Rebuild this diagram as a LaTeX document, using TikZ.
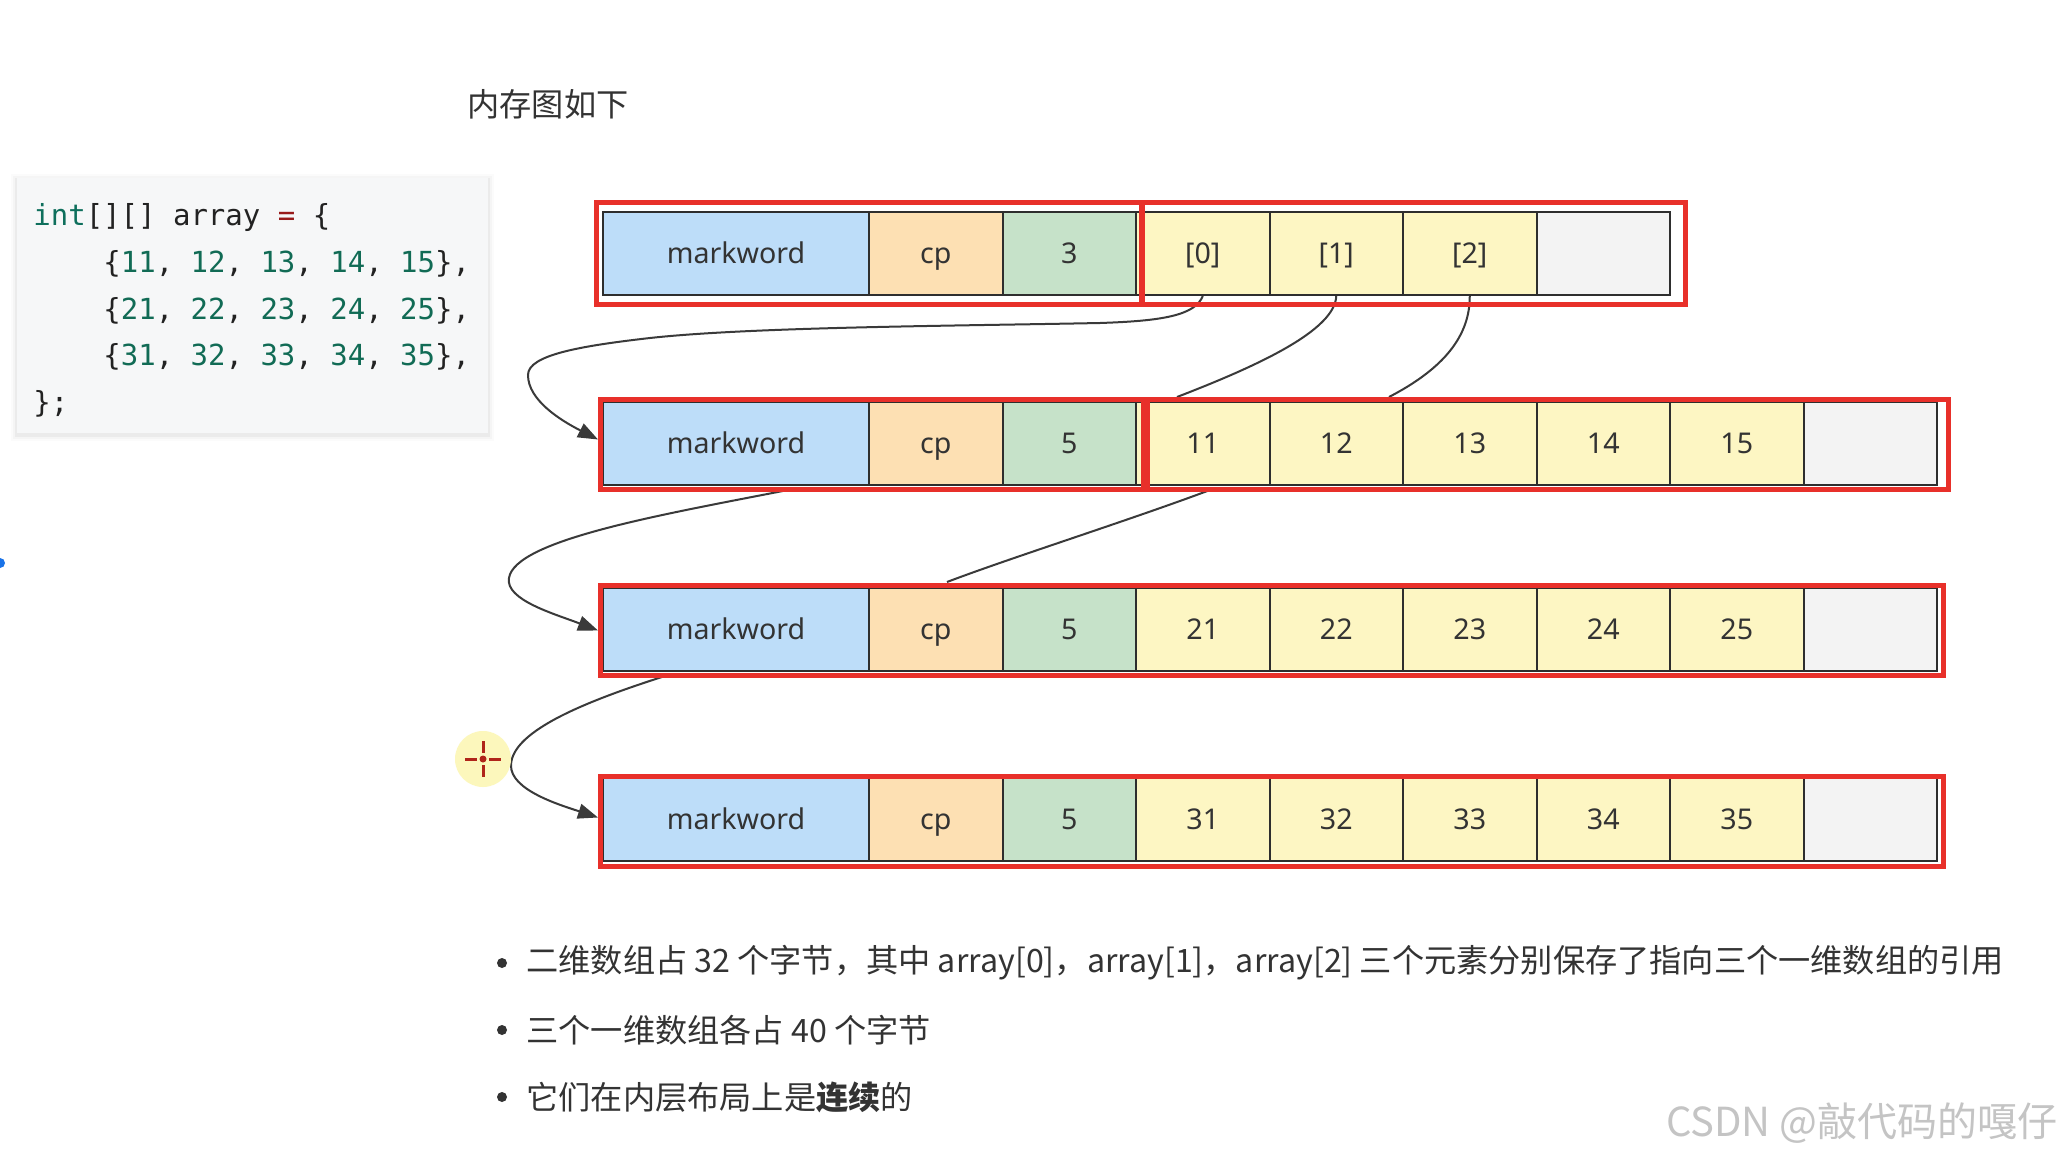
\documentclass[tikz,border=0pt]{standalone}
\usepackage{fontspec}
\setmainfont{Noto Sans}
\setmonofont{DejaVu Sans Mono}
\newfontfamily\cjk{Noto Sans CJK SC}
\usetikzlibrary{arrows.meta,calc}
\definecolor{mwblue}{HTML}{BDDDF9}
\definecolor{cporange}{HTML}{FDE0B3}
\definecolor{lengreen}{HTML}{C6E2C9}
\definecolor{datayellow}{HTML}{FDF6C3}
\definecolor{emptygray}{HTML}{F3F3F3}
\definecolor{redbox}{HTML}{E8302A}
\definecolor{celltext}{HTML}{333333}
\definecolor{cellline}{HTML}{2E2E2E}
\definecolor{linegray}{HTML}{3A3A3A}
\definecolor{codebg}{HTML}{F6F7F8}
\definecolor{codekw}{HTML}{0E6F5C}
\definecolor{codenum}{HTML}{116B55}
\definecolor{codeop}{HTML}{981A1A}
\definecolor{codetext}{HTML}{222222}
\definecolor{bodytext}{HTML}{333333}
\definecolor{wmgray}{HTML}{C4C4C4}
\definecolor{cursoryellow}{HTML}{FCF7BC}
\definecolor{cursorred}{HTML}{B0251A}
\definecolor{dotblue}{HTML}{1A73E8}
\pgfdeclarelayer{background}
\pgfsetlayers{background,main}
\newcommand\cellfont{\fontsize{14.3}{17}\selectfont}
\newcommand\codefont{\ttfamily\fontsize{14.5}{17}\selectfont}
\newcommand\bodyfont{\cjk\fontsize{16.1}{20}\selectfont}
\begin{document}
\begin{tikzpicture}[x=0.5pt,y=-0.5pt,
  cellbox/.style={draw=cellline, line width=1pt, minimum height=41.5pt, inner sep=0pt, text height=10.2pt, text depth=0pt, anchor=north west, font=\cellfont, text=celltext},
  mwcell/.style={cellbox, fill=mwblue, minimum width=133pt},
  cpcell/.style={cellbox, fill=cporange, minimum width=66.75pt},
  lencell/.style={cellbox, fill=lengreen, minimum width=66.75pt},
  datacell/.style={cellbox, fill=datayellow, minimum width=66.75pt},
  emptycell/.style={cellbox, fill=emptygray, minimum width=66.75pt},
  redframe/.style={draw=redbox, line width=2.5pt, inner sep=0pt, anchor=north west},
  ptr/.style={draw=linegray, line width=1pt},
  ptrarrow/.style={ptr, -{Triangle[length=10pt,width=7.5pt]}},
  codeline/.style={anchor=base west, inner sep=0pt, font=\codefont, text=codetext},
  bodyline/.style={anchor=west, inner sep=0pt, font=\bodyfont, text=bodytext},
  bulletdot/.style={circle, fill=bodytext, inner sep=0pt, minimum size=5pt},
]
\useasboundingbox (0,0) rectangle (2062,1156);
\begin{pgfonlayer}{background}
\fill[white] (0,0) rectangle (2062,1156);
\end{pgfonlayer}

% title
\node[bodyline] (title) at (467,104) {内存图如下};

% code box with soft shadow
\foreach \i/\o in {6/0.015,4/0.025,2/0.04}{
  \fill[black, opacity=\o] (17-\i,178-\i+2) rectangle (488+\i,433+\i+2);
}
\node[fill=codebg, minimum width=235.5pt, minimum height=127.5pt, anchor=north west, inner sep=0pt] (codebox) at (17,178) {};
\node[codeline] (code1) at (33,225) {\textcolor{codekw}{int}[][] array \textcolor{codeop}{=} \{};
\node[codeline] (code2) at (103,272) {\{\textcolor{codenum}{11}, \textcolor{codenum}{12}, \textcolor{codenum}{13}, \textcolor{codenum}{14}, \textcolor{codenum}{15}\},};
\node[codeline] (code3) at (103,319) {\{\textcolor{codenum}{21}, \textcolor{codenum}{22}, \textcolor{codenum}{23}, \textcolor{codenum}{24}, \textcolor{codenum}{25}\},};
\node[codeline] (code4) at (103,365) {\{\textcolor{codenum}{31}, \textcolor{codenum}{32}, \textcolor{codenum}{33}, \textcolor{codenum}{34}, \textcolor{codenum}{35}\},};
\node[codeline] (code5) at (33,412) {\};};

% row 1: the two-dimensional array
\node[mwcell]    (r1c1) at (602,211)    {markword};
\node[cpcell]    (r1c2) at (868,211)    {cp};
\node[lencell]   (r1c3) at (1001.5,211) {3};
\node[datacell]  (r1c4) at (1135,211)   {[0]};
\node[datacell]  (r1c5) at (1268.5,211) {[1]};
\node[datacell]  (r1c6) at (1402,211)   {[2]};
\node[emptycell] (r1c7) at (1535.5,211) {};

% rows 2-4: the one-dimensional arrays
\foreach \row/\ytop/\va/\vb/\vc/\vd/\ve in {2/401/11/12/13/14/15, 3/587/21/22/23/24/25, 4/777/31/32/33/34/35}{
  \node[mwcell]    (r\row c1) at (602,\ytop)    {markword};
  \node[cpcell]    (r\row c2) at (868,\ytop)    {cp};
  \node[lencell]   (r\row c3) at (1001.5,\ytop) {5};
  \node[datacell]  (r\row c4) at (1135,\ytop)   {\va};
  \node[datacell]  (r\row c5) at (1268.5,\ytop) {\vb};
  \node[datacell]  (r\row c6) at (1402,\ytop)   {\vc};
  \node[datacell]  (r\row c7) at (1535.5,\ytop) {\vd};
  \node[datacell]  (r\row c8) at (1669,\ytop)   {\ve};
  \node[emptycell] (r\row c9) at (1802.5,\ytop) {};
}

% red frames
\node[redframe, minimum width=272.5pt, minimum height=51pt] (r1a) at (594,200) {};
\node[redframe, minimum width=271.5pt, minimum height=51pt] (r1b) at (1140,200) {};
\node[redframe, minimum width=271.5pt, minimum height=45pt] (r2a) at (598,397) {};
\node[redframe, minimum width=400.5pt, minimum height=45pt] (r2b) at (1145,397) {};
\node[redframe, minimum width=671.5pt, minimum height=45pt] (r3box) at (598,583) {};
\node[redframe, minimum width=671.5pt, minimum height=45pt] (r4box) at (598,774) {};

% connectors (behind the cells)
\begin{pgfonlayer}{background}
\draw[ptrarrow] (r1c4.south) .. controls (1195,316) and (1160,321) .. (1100,323)
  .. controls (950,326) and (750,327) .. (650,338)
  .. controls (580,346) and (528,355) .. (528,375)
  .. controls (528,400) and (560,420) .. ($(r2a.west)+(0,-5)$);
\draw[ptr] (r1c5.south) .. controls (1335,330) and (1260,365) .. ($(r2c4.north west)+(42,-4)$);
\draw[ptr] (r1c6.south) .. controls (1470,335) and (1445,368) .. ($(r2c5.north east)+(-15,-4)$);
\draw[ptrarrow] ($(r2c1.south west)+(186,4)$) .. controls (660,515) and (515,540) .. (509,578)
  .. controls (505,600) and (555,614) .. (r3box.west);
\draw[ptr] ($(r2c4.south west)+(75,4)$) .. controls (1130,520) and (1010,558) .. ($(r3c2.north west)+(79,-5)$);
\draw[ptrarrow] ($(r3c1.south west)+(63,4)$) .. controls (590,700) and (512,730) .. (511,765)
  .. controls (510,790) and (560,805) .. ($(r4box.west)+(0,-4)$);
\end{pgfonlayer}

% cursor highlight
\fill[cursoryellow] (483,759) circle (28);
\begin{scope}[cursorred, line width=1.5pt]
  \draw (465,759) -- (477,759);
  \draw (489,759) -- (501,759);
  \draw (483,741) -- (483,753);
  \draw (483,765) -- (483,777);
  \fill (483,759) circle (3.5);
\end{scope}
\fill[dotblue] (0,563) circle (5);

% bullet list
\node[bulletdot] (b1) at (502,963) {};
\node[bodyline] (t1) at (526,963) {二维数组占 32 个字节，其中 array[0]，array[1]，array[2] 三个元素分别保存了指向三个一维数组的引用};
\node[bulletdot] (b2) at (502,1030) {};
\node[bodyline] (t2) at (526,1030) {三个一维数组各占 40 个字节};
\node[bulletdot] (b3) at (502,1097) {};
\node[bodyline] (t3) at (526,1097) {它们在内层布局上是\textbf{连续}的};

% watermark
\node[anchor=east, inner sep=0pt, text=wmgray, font=\cjk\fontsize{20}{24}\selectfont] (wm) at (2058,1123) {CSDN @敲代码的嘎仔};
\end{tikzpicture}
\end{document}
